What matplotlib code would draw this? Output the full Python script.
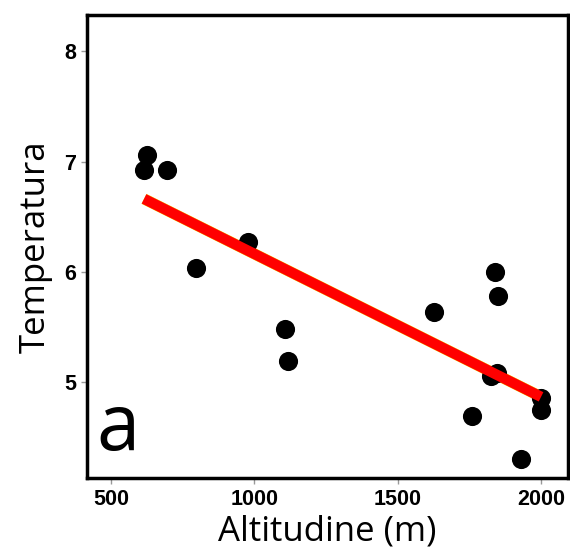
import matplotlib.pyplot as plt
import numpy as np

# altitude (m) and temperature readings
altitudine = [615, 626, 695, 797, 978, 1107, 1118, 1627, 1840, 1850,
              1826, 1847, 1760, 1930, 2000, 2000]
temperatura = [6.92, 7.06, 6.92, 6.03, 6.27, 5.48, 5.19, 5.63, 6.00, 5.78,
               5.05, 5.08, 4.69, 4.30, 4.85, 4.74]

x_ticks = [500, 1000, 1500, 2000]
y_ticks = [5, 6, 7, 8]


def main():
    x = np.array(altitudine, dtype=float)
    y = np.array(temperatura, dtype=float)
    slope, intercept = np.polyfit(x, y, 1)
    xs = np.array([x.min(), x.max()])

    fig = plt.figure(figsize=(5.7, 5.56), dpi=100)
    ax = fig.add_axes([0.1526, 0.140, 0.8439, 0.833])

    ax.scatter(x, y, s=190, color="black", zorder=3, linewidths=0)
    ax.plot(xs, intercept + slope * xs, color="#f5d000", lw=8.0, zorder=2,
            solid_capstyle="butt")
    ax.plot(xs, intercept + slope * xs, color="red", lw=7.5, zorder=4,
            solid_capstyle="butt")

    ax.set_xlim(416, 2094)
    ax.set_ylim(4.125, 8.33)
    ax.set_xticks(x_ticks)
    ax.set_yticks(y_ticks)
    ax.tick_params(length=4, width=1, color="#999999", pad=4)
    for lab in ax.get_xticklabels() + ax.get_yticklabels():
        lab.set_fontfamily("Liberation Sans")
        lab.set_fontweight("bold")
        lab.set_fontsize(15.5)
    for sp in ax.spines.values():
        sp.set_linewidth(2.5)

    ax.set_xlabel("Altitudine (m)", fontfamily="Open Sans", fontsize=25,
                  labelpad=3)
    ax.set_ylabel("Temperatura", fontfamily="Open Sans", fontsize=25,
                  labelpad=8)
    ax.text(0.02, 0.02, "a", transform=ax.transAxes, fontfamily="Open Sans",
            fontsize=56, va="bottom", ha="left")

    fig.savefig("out.png", dpi=100)


if __name__ == "__main__":
    main()
